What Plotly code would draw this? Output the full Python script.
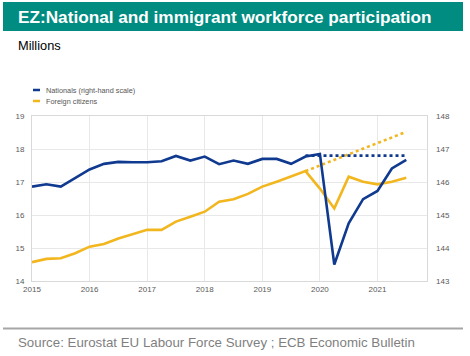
import plotly.graph_objects as go

# ---- data ----
quarters = ["2015Q1","2015Q2","2015Q3","2015Q4",
            "2016Q1","2016Q2","2016Q3","2016Q4",
            "2017Q1","2017Q2","2017Q3","2017Q4",
            "2018Q1","2018Q2","2018Q3","2018Q4",
            "2019Q1","2019Q2","2019Q3","2019Q4",
            "2020Q1","2020Q2","2020Q3","2020Q4",
            "2021Q1","2021Q2","2021Q3"]
nationals = [145.86, 145.93, 145.86, 146.11,
             146.38, 146.55, 146.61, 146.60,
             146.60, 146.63, 146.79, 146.65,
             146.77, 146.54, 146.65, 146.55,
             146.70, 146.70, 146.55, 146.77,
             146.85, 143.50, 144.75, 145.48,
             145.73, 146.41, 146.67]
foreign = [14.57, 14.67, 14.69, 14.84,
           15.04, 15.12, 15.29, 15.41,
           15.55, 15.55, 15.80, 15.95,
           16.10, 16.40, 16.48, 16.64,
           16.86, 17.01, 17.16, 17.33,
           16.80, 16.20, 17.16, 17.01,
           16.93, 17.01, 17.13]
trend_quarters = ["2019Q4", "2021Q3"]
nationals_trend = [146.80, 146.80]
foreign_trend = [17.33, 18.52]
year_ticks = [2015, 2016, 2017, 2018, 2019, 2020, 2021]
left_ticks = [14, 15, 16, 17, 18, 19]
right_ticks = [143, 144, 145, 146, 147, 148]

def qnum(q):
    return int(q[:4]) + (int(q[-1]) - 1) / 4.0

x = [qnum(q) for q in quarters]
xt = [qnum(q) for q in trend_quarters]

BLUE = "#0F3A8F"
YELLOW = "#F2B61E"
TEAL = "#008C80"
FONT = "Liberation Sans, Arial, sans-serif"

W, H = 470, 356
ML, MR, MT, MB = 32, 43, 116, 75
PW, PH = W - ML - MR, H - MT - MB

def px(xp):
    return (xp - ML) / PW

def py(yp):
    return 1 - (yp - MT) / PH

fig = go.Figure()
fig.add_trace(go.Scatter(x=x, y=foreign, mode="lines", name="Foreign citizens",
                         line=dict(color=YELLOW, width=2.6), showlegend=False))
fig.add_trace(go.Scatter(x=xt, y=foreign_trend, mode="lines", name="Foreign citizens trend",
                         line=dict(color=YELLOW, width=2.6, dash="dot"), showlegend=False))
fig.add_trace(go.Scatter(x=x, y=nationals, mode="lines", name="Nationals (right-hand scale)",
                         line=dict(color=BLUE, width=2.6), yaxis="y2", showlegend=False))
fig.add_trace(go.Scatter(x=xt, y=nationals_trend, mode="lines", name="Nationals trend",
                         line=dict(color=BLUE, width=2.6, dash="dot"), yaxis="y2", showlegend=False))

shapes = [
    dict(type="rect", xref="paper", yref="paper", x0=px(3), x1=px(463), y0=py(31), y1=py(2),
         fillcolor=TEAL, line=dict(width=0), layer="below"),
    dict(type="line", xref="paper", yref="paper", x0=px(3), x1=px(463), y0=py(328.5), y1=py(328.5),
         line=dict(color="#A6A6A6", width=2)),
    dict(type="line", xref="paper", yref="paper", x0=px(33), x1=px(40), y0=py(90), y1=py(90),
         line=dict(color=BLUE, width=2.5)),
    dict(type="line", xref="paper", yref="paper", x0=px(33), x1=px(40), y0=py(101), y1=py(101),
         line=dict(color=YELLOW, width=2.5)),
]
annotations = [
    dict(text="<b>EZ:National and immigrant workforce participation</b>", xref="paper", yref="paper",
         x=px(16), y=py(17), xanchor="left", yanchor="middle", showarrow=False,
         font=dict(family=FONT, size=17.2, color="white")),
    dict(text="Millions", xref="paper", yref="paper", x=px(16), y=py(45), xanchor="left",
         yanchor="middle", showarrow=False, font=dict(family=FONT, size=12.8, color="black")),
    dict(text="Nationals (right-hand scale)", xref="paper", yref="paper", x=px(44), y=py(90),
         xanchor="left", yanchor="middle", showarrow=False, font=dict(family=FONT, size=7.3, color="#555555")),
    dict(text="Foreign citizens", xref="paper", yref="paper", x=px(44), y=py(101),
         xanchor="left", yanchor="middle", showarrow=False, font=dict(family=FONT, size=7.3, color="#555555")),
    dict(text="Source: Eurostat EU Labour Force Survey ; ECB Economic Bulletin", xref="paper", yref="paper",
         x=px(16), y=py(342), xanchor="left", yanchor="middle", showarrow=False,
         font=dict(family=FONT, size=13.3, color="#7F7F7F")),
]

fig.update_layout(
    width=W, height=H, margin=dict(l=ML, r=MR, t=MT, b=MB, autoexpand=False),
    paper_bgcolor="white", plot_bgcolor="white",
    font=dict(family=FONT, size=8, color="#595959"),
    shapes=shapes, annotations=annotations,
    xaxis=dict(range=[2015, 2021.86], tickvals=year_ticks, ticktext=[str(v) for v in year_ticks],
               showgrid=True, gridcolor="#E8E8E8", gridwidth=1, zeroline=False, automargin=False,
               showline=True, linecolor="#D9D9D9", mirror=True, ticks="", ticklen=0,
               tickfont=dict(size=8, color="#595959")),
    yaxis=dict(range=[14, 19], tickvals=left_ticks, showgrid=True, gridcolor="#E8E8E8",
               zeroline=False, showline=True, linecolor="#D9D9D9", mirror=True, ticks="",
               automargin=False, ticklabelstandoff=5, tickfont=dict(size=8, color="#595959")),
    yaxis2=dict(range=[143, 148], tickvals=right_ticks, overlaying="y", side="right",
                showgrid=False, zeroline=False, showline=False, ticks="", automargin=False,
                ticklabelstandoff=8, tickfont=dict(size=8, color="#595959")),
)

fig.write_html("out.html", config={"displayModeBar": False},
               post_script="document.body.style.margin='0';")
